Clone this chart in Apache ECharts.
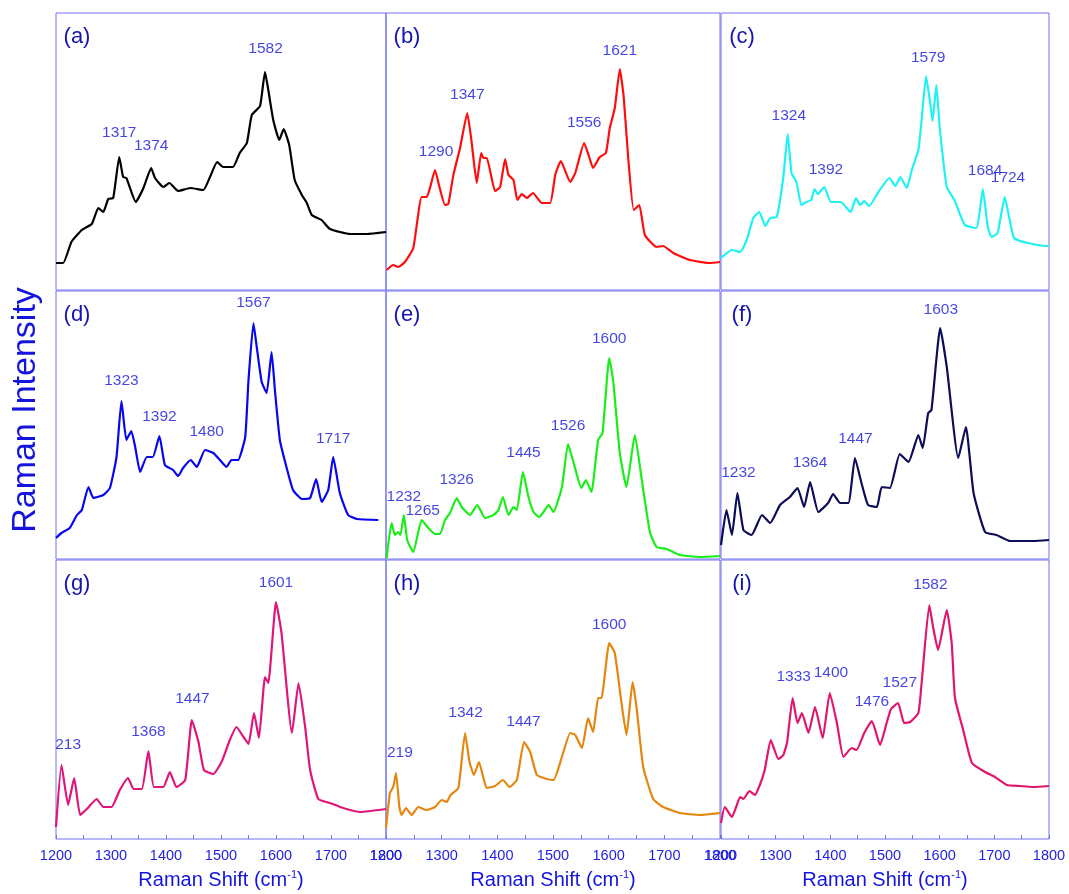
<!DOCTYPE html>
<html>
<head>
<meta charset="utf-8">
<script src="https://cdn.jsdelivr.net/npm/echarts@6/dist/echarts.min.js"></script>
<style>
html,body{margin:0;padding:0;background:#fff;}
#chart{width:1069px;height:894px;}
</style>
</head>
<body>
<div id="chart"></div>
<script>
// ---------- DATA ----------
const tickValues = [1200, 1300, 1400, 1500, 1600, 1700, 1800];
const panelTags = ['(a)', '(b)', '(c)', '(d)', '(e)', '(f)', '(g)', '(h)', '(i)'];

const specA = [[1200,27],[1213,27],[1228,48],[1247,60],[1265,66],[1277,82],[1286,78],[1295,91],[1304,92],[1315,133],[1322,113],[1328,112],[1345,88],[1359,102],[1373,122],[1380,112],[1395,103],[1406,107],[1422,99],[1444,102],[1468,100],[1480,113],[1493,128],[1504,123],[1522,123],[1534,137],[1547,147],[1556,175],[1571,184],[1580,218],[1586,200],[1595,170],[1606,150],[1614,161],[1624,145],[1634,110],[1647,95],[1656,87],[1665,75],[1683,70],[1698,61],[1735,56],[1765,56],[1800,58]];
const specB = [[1201,20],[1213,25],[1222,23],[1234,28],[1249,42],[1264,93],[1273,93],[1279,102],[1288,120],[1296,103],[1306,85],[1312,86],[1321,115],[1333,142],[1346,177],[1354,147],[1363,107],[1371,137],[1375,132],[1381,132],[1396,99],[1405,103],[1414,131],[1420,115],[1429,110],[1436,90],[1444,96],[1453,92],[1464,97],[1480,87],[1495,87],[1504,115],[1514,129],[1531,108],[1540,117],[1556,147],[1565,133],[1572,122],[1584,133],[1595,137],[1602,162],[1611,182],[1620,221],[1627,193],[1635,133],[1645,80],[1655,85],[1665,55],[1686,43],[1698,44],[1716,37],[1746,30],[1782,27],[1800,28]];
const specC = [[1200,32],[1220,40],[1235,38],[1247,50],[1259,72],[1270,78],[1281,64],[1290,72],[1302,73],[1314,113],[1322,156],[1329,117],[1338,108],[1347,85],[1356,88],[1365,90],[1371,101],[1377,96],[1389,103],[1401,88],[1419,88],[1437,78],[1447,92],[1454,85],[1462,89],[1471,84],[1488,98],[1508,112],[1519,104],[1528,113],[1540,102],[1549,120],[1561,140],[1567,170],[1575,214],[1582,190],[1587,169],[1594,205],[1600,163],[1613,103],[1627,90],[1646,65],[1667,62],[1673,77],[1679,101],[1688,63],[1695,53],[1706,57],[1719,93],[1727,73],[1736,52],[1761,47],[1794,44],[1800,44]];
const specD = [[1200,21],[1210,26],[1225,31],[1238,44],[1247,49],[1259,72],[1268,61],[1286,64],[1298,71],[1310,102],[1319,158],[1328,119],[1337,128],[1344,112],[1353,87],[1365,102],[1376,102],[1388,123],[1398,94],[1413,89],[1422,83],[1431,91],[1445,99],[1456,92],[1471,109],[1486,106],[1498,99],[1510,92],[1519,99],[1531,99],[1544,122],[1550,179],[1559,236],[1565,212],[1574,177],[1583,166],[1592,207],[1598,169],[1607,119],[1619,92],[1631,69],[1647,60],[1662,61],[1673,80],[1683,57],[1695,69],[1704,102],[1716,66],[1731,44],[1747,40],[1786,39]];
const specE = [[1201,1],[1210,36],[1216,24],[1222,27],[1226,24],[1232,44],[1238,19],[1249,7],[1264,39],[1276,31],[1288,25],[1297,25],[1306,39],[1315,46],[1327,61],[1336,52],[1351,44],[1364,54],[1378,41],[1393,44],[1402,49],[1410,62],[1420,44],[1429,52],[1435,49],[1446,87],[1456,62],[1465,47],[1475,42],[1483,47],[1492,54],[1501,47],[1516,72],[1527,115],[1539,92],[1551,71],[1559,79],[1569,67],[1581,119],[1589,126],[1601,201],[1608,179],[1620,106],[1632,72],[1647,124],[1659,81],[1674,27],[1686,12],[1704,10],[1728,4],[1764,2],[1800,3]];
const specF = [[1200,14],[1210,49],[1220,24],[1230,66],[1241,29],[1256,24],[1275,44],[1290,36],[1308,54],[1326,62],[1340,71],[1352,52],[1363,77],[1378,47],[1396,56],[1405,65],[1418,56],[1433,56],[1445,101],[1457,76],[1469,54],[1485,52],[1494,72],[1509,71],[1527,105],[1543,97],[1561,124],[1569,111],[1579,146],[1585,149],[1601,231],[1613,192],[1634,101],[1648,132],[1662,66],[1683,27],[1704,24],[1729,18],[1771,18],[1800,19]];
const specG = [[1200,12],[1210,74],[1222,34],[1233,61],[1244,24],[1256,30],[1274,40],[1286,32],[1301,32],[1316,49],[1331,61],[1341,50],[1356,50],[1368,88],[1378,52],[1395,52],[1407,67],[1419,52],[1435,59],[1447,119],[1459,97],[1469,69],[1486,65],[1501,77],[1516,99],[1528,112],[1541,102],[1550,95],[1560,126],[1569,101],[1580,162],[1586,156],[1600,237],[1610,206],[1629,106],[1641,156],[1653,112],[1662,69],[1677,40],[1698,36],[1722,31],[1753,27],[1800,30]];
const specH = [[1200,11],[1207,46],[1213,52],[1218,66],[1224,32],[1228,24],[1236,31],[1246,24],[1258,32],[1273,29],[1288,32],[1300,39],[1309,37],[1316,44],[1330,51],[1342,106],[1350,77],[1358,64],[1367,77],[1375,61],[1381,51],[1396,53],[1410,59],[1422,52],[1435,59],[1448,97],[1459,87],[1471,64],[1489,60],[1501,59],[1516,82],[1531,106],[1540,104],[1552,91],[1563,121],[1572,107],[1581,141],[1587,141],[1601,196],[1611,186],[1623,136],[1632,104],[1643,157],[1650,132],[1662,72],[1680,40],[1698,32],[1728,26],[1764,24],[1800,26]];
const specI = [[1200,16],[1207,32],[1220,22],[1229,34],[1235,42],[1241,40],[1252,48],[1262,44],[1271,54],[1280,69],[1291,99],[1305,80],[1314,84],[1321,97],[1331,141],[1340,116],[1348,126],[1360,106],[1372,132],[1386,101],[1399,146],[1412,116],[1424,82],[1439,91],[1448,89],[1462,106],[1476,118],[1491,94],[1503,116],[1511,130],[1524,136],[1535,116],[1546,117],[1561,126],[1567,156],[1581,234],[1588,212],[1597,189],[1613,229],[1622,196],[1628,141],[1643,109],[1659,76],[1683,67],[1701,62],[1723,54],[1747,53],[1771,52],[1800,53]];

// peak labels: [text, wavenumber, intensity]
const peaksA = [['1317',1315,157],['1374',1373,144],['1582',1581,241]];
const peaksB = [['1290',1290,138],['1347',1346,195],['1556',1556,167],['1621',1620,239]];
const peaksC = [['1324',1324,174],['1392',1392,120],['1579',1579,232],['1684',1683,119],['1724',1725,112]];
const peaksD = [['1323',1319,178],['1392',1388,142],['1480',1474,127],['1567',1559,256],['1717',1704,120]];
const peaksE = [['1232',1232,62],['1265',1266,48],['1326',1327,79],['1445',1447,106],['1526',1527,133],['1600',1601,220]];
const peaksF = [['1232',1232,86],['1364',1363,96],['1447',1446,120],['1603',1602,249]];
const peaksG = [['213',1222,94],['1368',1368,107],['1447',1448,140],['1601',1600,256]];
const peaksH = [['219',1225,86],['1342',1343,126],['1447',1447,117],['1600',1601,214]];
const peaksI = [['1333',1333,162],['1400',1401,166],['1476',1476,137],['1527',1527,156],['1582',1583,254]];

// ---------- LAYOUT / STYLE ----------
const spectra = [specA, specB, specC, specD, specE, specF, specG, specH, specI];
const peaks = [peaksA, peaksB, peaksC, peaksD, peaksE, peaksF, peaksG, peaksH, peaksI];
const lineColors = ['#000000', '#ff0d0d', '#1ff2f2', '#0606f0', '#1aee1a', '#0c0c58', '#e0157a', '#e3870f', '#e0156c'];
const COLS = [[56, 330], [386, 334], [721, 328]];
const ROWS = [[13, 277], [291, 268], [560, 279]];
const BORDER = '#7272f2';
const FONT = '"Liberation Sans", Arial, sans-serif';
const TEXT = '#1414dc';

const grids = [], xAxes = [], yAxes = [], series = [], graphics = [];
for (let i = 0; i < 9; i++) {
  const r = Math.floor(i / 3), c = i % 3;
  const bottomRow = r === 2;
  grids.push({ left: COLS[c][0], top: ROWS[r][0], width: COLS[c][1], height: ROWS[r][1],
    show: true, borderColor: BORDER, borderWidth: 1, backgroundColor: 'transparent' });
  xAxes.push({
    type: 'value', gridIndex: i, min: tickValues[0], max: tickValues[tickValues.length - 1], interval: 100,
    axisLine: { show: false },
    axisTick: { show: bottomRow, inside: true, length: 4, lineStyle: { color: BORDER } },
    minorTick: { show: bottomRow, splitNumber: 2, length: 4, lineStyle: { color: BORDER } },
    splitLine: { show: false },
    axisLabel: { show: bottomRow, color: '#1e1ee4', fontSize: 14.5, fontFamily: FONT, margin: 9,
      formatter: v => String(v) },
    name: bottomRow ? '{a|Raman Shift (cm}{s|-1}{a|)}' : '',
    nameLocation: 'middle', nameGap: 30,
    nameTextStyle: { rich: {
      a: { fontSize: 20, color: TEXT, fontFamily: FONT },
      s: { fontSize: 11, color: TEXT, fontFamily: FONT, verticalAlign: 'top', padding: [0, 0, 12, 0] }
    } }
  });
  yAxes.push({ type: 'value', gridIndex: i, min: 0, max: ROWS[r][1], show: false, splitLine: { show: false } });
  series.push({
    type: 'line', xAxisIndex: i, yAxisIndex: i, data: spectra[i], showSymbol: false, symbol: 'none',
    smooth: 0.15, lineStyle: { color: lineColors[i], width: 2.2 }, silent: true, clip: true
  });
  series.push({
    type: 'scatter', xAxisIndex: i, yAxisIndex: i, symbolSize: 0, silent: true, clip: false,
    data: peaks[i].map(p => ({ name: p[0], value: [p[1], p[2]] })),
    label: { show: true, position: 'inside', formatter: '{b}', color: TEXT, fontSize: 15.5, fontFamily: FONT }
  });
  graphics.push({
    type: 'text', x: COLS[c][0] + 21, y: ROWS[r][0] + 24,
    style: { text: panelTags[i], fill: '#1414b0', font: '22px ' + FONT, align: 'center', verticalAlign: 'middle' }
  });
}
graphics.push({
  type: 'text', x: 26, y: 410, rotation: Math.PI / 2,
  style: { text: 'Raman Intensity', fill: TEXT, font: '34px ' + FONT, align: 'center', verticalAlign: 'middle' }
});

const chart = echarts.init(document.getElementById('chart'), null, { renderer: 'canvas' });
chart.setOption({
  animation: false,
  backgroundColor: '#ffffff',
  grid: grids, xAxis: xAxes, yAxis: yAxes, series: series, graphic: graphics
});
</script>
</body>
</html>
